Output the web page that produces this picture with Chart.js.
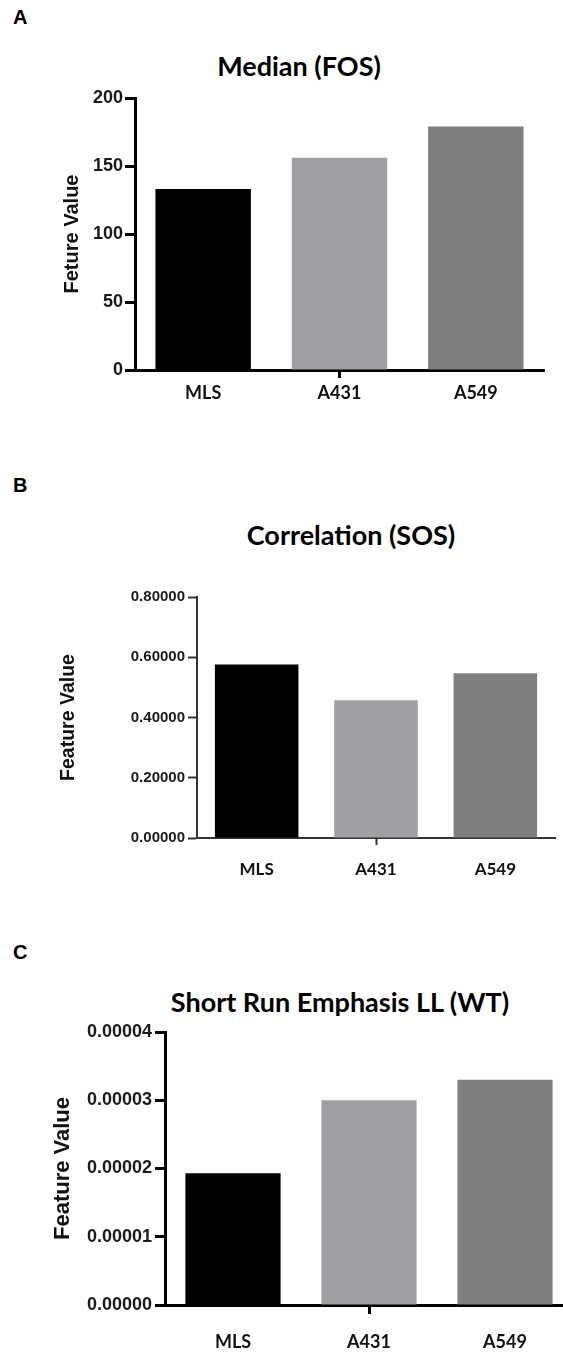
<!DOCTYPE html>
<html>
<head>
<meta charset="utf-8">
<script src="https://cdn.jsdelivr.net/npm/chart.js@4"></script>
<style>
  html, body { margin: 0; padding: 0; background: #fff; overflow: hidden; }
  body { width: 563px; height: 1353px; position: relative; }
  .letter { position: absolute; left: 13px; font: bold 20px "Liberation Sans", Arial, sans-serif; line-height: 20px; color: #000; }
  .title { position: absolute; transform: translateX(-50%); white-space: nowrap; font: bold 27px Lato, sans-serif; line-height: 32px; color: #000; }
  canvas { position: absolute; left: 0; }
</style>
</head>
<body>
  <div class="letter" style="top:7px">A</div>
  <div class="title" style="left:299px; top:50px">Median (FOS)</div>
  <canvas id="chartA" width="563" height="410" style="top:0px"></canvas>

  <div class="letter" style="top:475px">B</div>
  <div class="title" style="left:351px; top:519px">Correlation (SOS)</div>
  <canvas id="chartB" width="563" height="458" style="top:440px"></canvas>

  <div class="letter" style="top:942px">C</div>
  <div class="title" style="left:340px; top:986px">Short Run Emphasis LL (WT)</div>
  <canvas id="chartC" width="600" height="433" style="top:920px"></canvas>

<script>
const categories = ['MLS', 'A431', 'A549']

const medianValues = [133, 156, 179]
const medianTicks = [0, 50, 100, 150, 200]

const correlationValues = [0.576, 0.457, 0.547]
const correlationTicks = [0, 0.2, 0.4, 0.6, 0.8]

const sreValues = [0.0000193, 0.00003, 0.000033]
const sreTicks = [0, 0.00001, 0.00002, 0.00003, 0.00004]

const barColors = ['#000000', '#a09fa4', '#7f7f7f']

const ARIAL = '"Liberation Sans", Arial, sans-serif'
const CALIBRI = 'Lato, sans-serif'

function makePanel(id, values, tickValues, cfg) {
  new Chart(document.getElementById(id), {
    type: 'bar',
    data: {
      labels: categories,
      datasets: [{
        data: values,
        backgroundColor: barColors,
        borderWidth: 0,
        barPercentage: cfg.barPct,
        categoryPercentage: 1
      }]
    },
    options: {
      responsive: false,
      animation: false,
      events: [],
      layout: { padding: cfg.padding },
      plugins: {
        legend: { display: false },
        tooltip: { enabled: false }
      },
      scales: {
        x: {
          offset: true,
          grid: {
            offset: false,
            drawOnChartArea: false,
            tickLength: cfg.xTickLen,
            tickWidth: cfg.line,
            // only the middle category gets a tick mark
            tickColor: c => c.index === 1 ? cfg.axisColor : 'rgba(0,0,0,0)'
          },
          border: { color: cfg.axisColor, width: cfg.line },
          ticks: {
            color: '#111',
            font: { family: CALIBRI, size: cfg.xFont, weight: 'bold' },
            padding: cfg.xPad,
            maxRotation: 0
          },
          afterFit: s => { s.height = cfg.xHeight }
        },
        y: {
          min: tickValues[0],
          max: tickValues[tickValues.length - 1],
          afterBuildTicks: s => { s.ticks = tickValues.map(v => ({ value: v })) },
          grid: {
            drawOnChartArea: false,
            tickLength: cfg.yTickLen,
            tickWidth: cfg.line,
            tickColor: cfg.axisColor
          },
          border: { color: cfg.axisColor, width: cfg.line },
          ticks: {
            callback: v => cfg.fmt(v),
            color: '#1a1a1a',
            font: { family: ARIAL, size: cfg.yFont, weight: 'bold' },
            padding: cfg.yPad
          },
          title: {
            display: true,
            text: cfg.yTitle,
            color: '#111',
            font: { family: ARIAL, size: cfg.yTitleFont, weight: 'bold' },
            padding: { top: cfg.yTitlePad, bottom: 0 }
          },
          afterFit: s => { s.width = cfg.yWidth }
        }
      }
    }
  })
}

makePanel('chartA', medianValues, medianTicks, {
  padding: { left: 50, right: 19, top: 98, bottom: 0 },
  yWidth: 85, xHeight: 40, barPct: 0.70,
  line: 3, axisColor: '#000',
  yTickLen: 10, yPad: 2, yFont: 18,
  xTickLen: 8, xPad: 4, xFont: 18,
  yTitle: 'Feture Value', yTitleFont: 20, yTitlePad: 10,
  fmt: v => String(Math.round(v))
})

makePanel('chartB', correlationValues, correlationTicks, {
  padding: { left: 48, right: 8, top: 157, bottom: 0 },
  yWidth: 149, xHeight: 60, barPct: 0.70,
  line: 2, axisColor: '#333',
  yTickLen: 9, yPad: 3, yFont: 15,
  xTickLen: 7, xPad: 14, xFont: 17,
  yTitle: 'Feature Value', yTitleFont: 19.5, yTitlePad: 9,
  fmt: v => v.toFixed(5)
})

makePanel('chartC', sreValues, sreTicks, {
  padding: { left: 40, right: 27, top: 112, bottom: 0 },
  yWidth: 125, xHeight: 48, barPct: 0.70,
  line: 3, axisColor: '#000',
  yTickLen: 10, yPad: 3, yFont: 18,
  xTickLen: 9, xPad: 17, xFont: 18,
  yTitle: 'Feature Value', yTitleFont: 22, yTitlePad: 10,
  fmt: v => v.toFixed(5)
})
</script>
</body>
</html>
